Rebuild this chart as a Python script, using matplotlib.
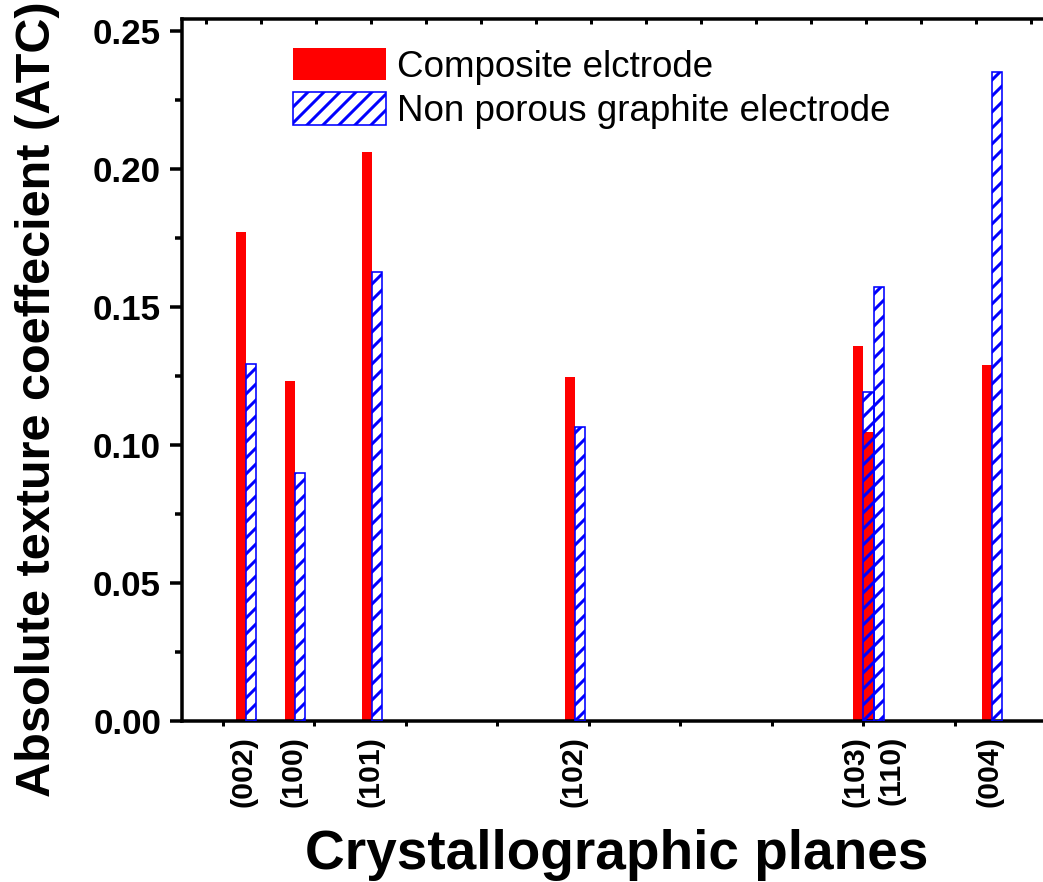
import matplotlib
matplotlib.use("Agg")
import matplotlib.pyplot as plt
from matplotlib.patches import Patch
from matplotlib.ticker import MultipleLocator, FormatStrFormatter

# dane
planes = ['(002)', '(100)', '(101)', '(102)', '(103)', '(110)', '(004)']
plane_x = [0.25, 0.79, 1.63, 3.85, 7.0, 7.11, 8.4]
composite = [0.1771, 0.1232, 0.2063, 0.1247, 0.1360, 0.1048, 0.1290]
non_porous = [0.1292, 0.0897, 0.1628, 0.1064, 0.1191, 0.1574, 0.2353]

plt.rcParams['font.family'] = ['Liberation Sans', 'DejaVu Sans']
plt.rcParams['hatch.linewidth'] = 1.5

W = 0.11  # szerokosc slupka
fig = plt.figure(figsize=(1043 / 144, 882 / 144), dpi=144)
ax = fig.add_axes([0.1745, 0.1825, 0.8255, 0.7954])

ax.bar([x - W / 2 for x in plane_x], composite, width=W, color='red',
       linewidth=0, zorder=2)
ax.bar([x + W / 2 for x in plane_x], non_porous, width=W, facecolor='none',
       edgecolor='blue', hatch='///', linewidth=0.8, zorder=3)

ax.set_xlim(-0.448, 8.962)
ax.set_ylim(0, 0.2542)

for s in ['left', 'bottom', 'top']:
    ax.spines[s].set_linewidth(1.75)
ax.spines['right'].set_visible(False)

ax.yaxis.set_major_locator(MultipleLocator(0.05))
ax.yaxis.set_minor_locator(MultipleLocator(0.025))
ax.yaxis.set_major_formatter(FormatStrFormatter('%.2f'))
ax.xaxis.set_major_locator(MultipleLocator(1))
ax.tick_params(axis='y', which='major', direction='out', length=6, width=1.75,
               pad=4.5, labelsize=17.5)
ax.tick_params(axis='y', which='minor', direction='out', length=3.5, width=1.75)
ax.tick_params(axis='x', which='major', direction='out', length=2.5, width=1.5,
               labelbottom=False)
for lab in ax.get_yticklabels():
    lab.set_fontweight('bold')

# male kreski na gornej osi
top = ax.twiny()
top.set_xlim(ax.get_xlim())
top.xaxis.set_major_locator(MultipleLocator(0.601, offset=0.415))
top.tick_params(axis='x', direction='in', length=2.5, width=1.5, labeltop=False)
for s in top.spines.values():
    s.set_visible(False)

# podpisy plaszczyzn
nudge = {'(103)': -4, '(110)': 9}
for name, x in zip(planes, plane_x):
    ax.annotate(name, xy=(x, 0), xycoords=('data', 'axes fraction'),
                xytext=(nudge.get(name, -1), -7.5), textcoords='offset points',
                rotation=90, ha='center', va='top', fontsize=15.2,
                fontweight='bold')

handles = [Patch(facecolor='red', edgecolor='red', linewidth=0),
           Patch(facecolor='white', edgecolor='blue', hatch='///', linewidth=0.8)]
ax.legend(handles, ['Composite elctrode', 'Non porous graphite electrode'],
          loc='upper left', bbox_to_anchor=(0.129, 0.960), frameon=False,
          fontsize=18.4, handlelength=2.53, handleheight=1.0,
          handletextpad=0.3, labelspacing=0.2, borderpad=0, borderaxespad=0)

fig.text(0.0479, 0.5476, 'Absolute texture coeffecient (ATC)', rotation=90,
         rotation_mode='anchor', ha='center', va='baseline', fontsize=24.3,
         fontweight='bold')
fig.text(0.5916, 0.0147, 'Crystallographic planes', ha='center',
         va='baseline', fontsize=27.5, fontweight='bold')

fig.savefig('out.png', dpi=144)
